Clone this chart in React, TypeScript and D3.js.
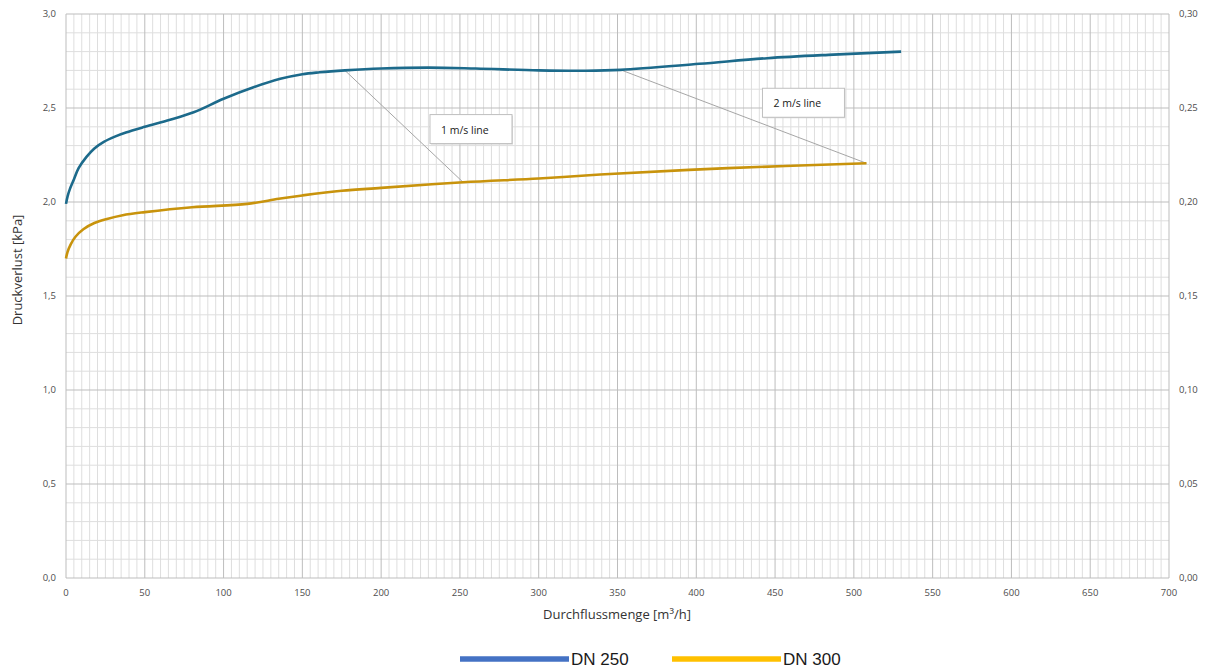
import React from 'react';
import * as d3 from 'd3';

// flow [m³/h] and pressure loss [kPa]
const dn250Flow = [0, 1, 2.5, 5, 8, 13, 18, 24, 31, 38, 50, 66, 81, 100, 119, 136, 150, 161, 177, 200, 230, 260, 300, 330, 352, 402, 445, 487, 530];
const dn250Loss = [1.99, 2.03, 2.07, 2.12, 2.18, 2.24, 2.285, 2.32, 2.348, 2.37, 2.40, 2.437, 2.477, 2.549, 2.61, 2.655, 2.68, 2.69, 2.70, 2.71, 2.715, 2.71, 2.70, 2.698, 2.703, 2.735, 2.765, 2.784, 2.80];

const dn300Flow = [0, 1, 3, 6, 11, 18, 26, 36, 50, 80, 115, 135, 150, 175, 200, 252, 300, 339, 420, 508];
const dn300Loss = [1.70, 1.735, 1.775, 1.815, 1.855, 1.888, 1.91, 1.93, 1.946, 1.972, 1.99, 2.017, 2.035, 2.06, 2.075, 2.105, 2.125, 2.146, 2.18, 2.206];

const seriesNames = ['DN 250', 'DN 300'];
const legendColors = ['#4472c4', '#ffc000'];
const lineColors = ['#1c6a8b', '#c8930c'];

const xTicks = d3.range(0, 701, 50);
const yTicks = [0, 0.5, 1.0, 1.5, 2.0, 2.5, 3.0];
const yTicksRight = [0, 0.05, 0.10, 0.15, 0.20, 0.25, 0.30];

// leader lines: from point on DN 250 to point on DN 300, label box anchor
const noteLabels = ['1 m/s line', '2 m/s line'];
const noteFrom = [[177, 2.70], [352, 2.703]];
const noteTo = [[252, 2.105], [508, 2.206]];
const noteBox = [[231, 2.465], [442, 2.605]];

const W = 1208;
const H = 668;
const margin = { left: 66, right: 39, top: 14, bottom: 90 };

const App = () => {
  const x = d3.scaleLinear().domain([0, 700]).range([margin.left, W - margin.right]);
  const y = d3.scaleLinear().domain([0, 3]).range([H - margin.bottom, margin.top]);
  const y2 = d3.scaleLinear().domain([0, 0.3]).range([H - margin.bottom, margin.top]);

  const line = d3.line<[number, number]>()
    .x(d => x(d[0]))
    .y(d => y(d[1]))
    .curve(d3.curveCatmullRom.alpha(0.5));

  const series = [
    dn250Flow.map((f, i) => [f, dn250Loss[i]] as [number, number]),
    dn300Flow.map((f, i) => [f, dn300Loss[i]] as [number, number]),
  ];

  const minorX = d3.range(0, 701, 5).filter(v => v % 50 !== 0);
  const minorY = d3.range(0, 31, 1).map(v => v / 10).filter((v, i) => i % 5 !== 0);

  const tickFont = 'Open Sans, sans-serif';

  return (
    <div style={{ position: 'absolute', left: 0, top: 0 }}>
      <svg width={W} height={H} style={{ display: 'block', background: '#fff' }}>
        {/* minor grid */}
        <g stroke="#dedede" strokeWidth={1}>
          {minorX.map(v => (
            <line key={'mx' + v} x1={x(v)} x2={x(v)} y1={y(0)} y2={y(3)} />
          ))}
          {minorY.map(v => (
            <line key={'my' + v} x1={x(0)} x2={x(700)} y1={y(v)} y2={y(v)} />
          ))}
        </g>
        {/* major grid */}
        <g stroke="#bdbdbd" strokeWidth={1}>
          {xTicks.map(v => (
            <line key={'x' + v} x1={x(v)} x2={x(v)} y1={y(0)} y2={y(3)} />
          ))}
          {yTicks.map(v => (
            <line key={'y' + v} x1={x(0)} x2={x(700)} y1={y(v)} y2={y(v)} />
          ))}
        </g>

        {/* axis labels */}
        <g fontFamily={tickFont} fontSize={9.5} fill="#4d4d4d">
          {yTicks.map(v => (
            <text key={'yl' + v} x={56} y={y(v) + 3} textAnchor="end">
              {d3.format('.1f')(v).replace('.', ',')}
            </text>
          ))}
          {yTicksRight.map(v => (
            <text key={'yr' + v} x={1179} y={y2(v) + 3} textAnchor="start">
              {d3.format('.2f')(v).replace('.', ',')}
            </text>
          ))}
          {xTicks.map(v => (
            <text key={'xl' + v} x={x(v)} y={596} textAnchor="middle">{v}</text>
          ))}
        </g>
        <text x={617} y={619} textAnchor="middle" fontFamily={tickFont} fontSize={13} fill="#333">
          Durchflussmenge [m³/h]
        </text>
        <text transform={`translate(22,${270}) rotate(-90)`} textAnchor="middle"
          fontFamily={tickFont} fontSize={13} fill="#333">
          Druckverlust [kPa]
        </text>

        {/* leader lines */}
        <g stroke="#a6a6a6" strokeWidth={1}>
          {noteFrom.map((p, i) => (
            <line key={'n' + i} x1={x(p[0])} y1={y(p[1])} x2={x(noteTo[i][0])} y2={y(noteTo[i][1])} />
          ))}
        </g>

        {/* curves */}
        {series.map((s, i) => (
          <path key={seriesNames[i]} d={line(s) || ''} fill="none" stroke={lineColors[i]} strokeWidth={2.6} />
        ))}

        {/* label boxes */}
        {noteLabels.map((t, i) => {
          const bx = x(noteBox[i][0]);
          const by = y(noteBox[i][1]);
          return (
            <g key={t}>
              <rect x={bx + 1} y={by + 1} width={82} height={29} fill="#d9d9d9" />
              <rect x={bx} y={by} width={82} height={29} fill="#fff" stroke="#bfbfbf" strokeWidth={1} />
              <text x={bx + 11} y={by + 19} fontFamily={tickFont} fontSize={10.5} fill="#1a1a1a">{t}</text>
            </g>
          );
        })}

        {/* legend */}
        <g fontFamily="Liberation Sans, Arial, sans-serif" fontSize={17} fill="#1a1a1a">
          {seriesNames.map((n, i) => {
            const lx = 460 + i * 212;
            return (
              <g key={'lg' + n}>
                <line x1={lx} x2={lx + 109} y1={659} y2={659} stroke={legendColors[i]} strokeWidth={5.5} />
                <text x={lx + 111} y={665}>{n}</text>
              </g>
            );
          })}
        </g>
      </svg>
    </div>
  );
};

export default App;
